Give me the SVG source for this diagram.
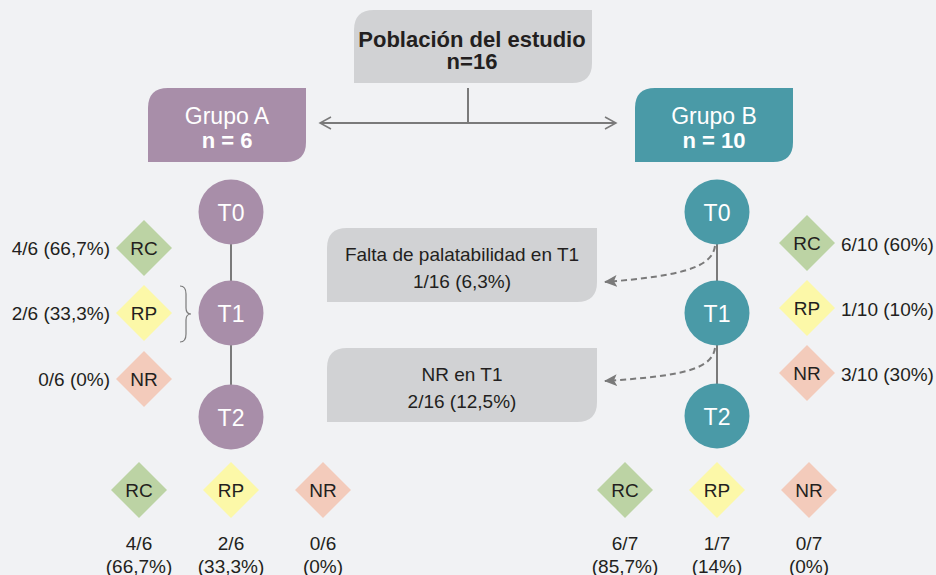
<svg xmlns="http://www.w3.org/2000/svg" width="936" height="575" viewBox="0 0 936 575">
<defs>
<style>
text{font-family:"Liberation Sans",Arial,sans-serif;fill:#231f20;}
.t16{font-size:19px;}
.w{fill:#fff;}
.b{font-weight:bold;}
.m{text-anchor:middle;}
.e{text-anchor:end;}
.gA{fill:#a88ea9;}
.gB{fill:#4a9aa7;}
.rc{fill:#bcd3a4;}
.rp{fill:#fcf8a8;}
.nr{fill:#f3cbbb;}
.gray{fill:#d1d2d4;}
.line{stroke:#7a7a7a;stroke-width:2;fill:none;}
.dash{stroke:#7a7a7a;stroke-width:2;fill:none;stroke-dasharray:6 4;}
</style>
<marker id="open" markerWidth="14" markerHeight="14" refX="12" refY="7" orient="auto-start-reverse" markerUnits="userSpaceOnUse">
<path d="M1,1 L12,7 L1,13" fill="none" stroke="#7a7a7a" stroke-width="1.5"/>
</marker>
<marker id="solid" markerWidth="14" markerHeight="12" refX="12" refY="6" orient="auto" markerUnits="userSpaceOnUse">
<path d="M0,0 L13,6 L0,12 L3,6 Z" fill="#7a7a7a"/>
</marker>
<path id="dm" d="M0,-28 L28,0 L0,28 L-28,0 Z"/>
</defs>
<rect width="936" height="575" fill="#f1f2f4"/>

<g id="connectors">
<line class="line" x1="468" y1="88" x2="468" y2="123"/>
<line class="line" x1="320" y1="123" x2="616" y2="123" stroke-width="1.5" marker-start="url(#open)" marker-end="url(#open)"/>
<line class="line" x1="231" y1="244" x2="231" y2="282"/>
<line class="line" x1="231" y1="345" x2="231" y2="385"/>
<line class="line" x1="717" y1="244" x2="717" y2="282"/>
<line class="line" x1="717" y1="345" x2="717" y2="385"/>
<path class="dash" d="M715,246 C712,268 680,276 605,282" marker-end="url(#solid)"/>
<path class="dash" d="M715,348 C712,370 680,376 605,381" marker-end="url(#solid)"/>
<path d="M180,286 Q186,286 186,294 L186,308 Q186,314 191,314 Q186,314 186,320 L186,334 Q186,342 180,342" fill="none" stroke="#7a7a7a" stroke-width="1.2"/>
</g>

<g id="poblacion">
<path class="gray" d="M374,10 L592,10 L592,63 Q592,83 572,83 L354,83 L354,30 Q354,10 374,10 Z"/>
<text class="m b" x="472" y="47" font-size="22">Población del estudio</text>
<text class="m b" x="472" y="69" font-size="22">n=16</text>
</g>

<g id="grupoA">
<path class="gA" d="M168,88 L306,88 L306,142 Q306,162 286,162 L148,162 L148,108 Q148,88 168,88 Z"/>
<text class="m w" x="227" y="124" font-size="23">Grupo A</text>
<text class="m w b" x="227" y="148" font-size="22">n = 6</text>
</g>

<g id="grupoB">
<path class="gB" d="M655,88 L793,88 L793,142 Q793,162 773,162 L635,162 L635,108 Q635,88 655,88 Z"/>
<text class="m w" x="714" y="124" font-size="23">Grupo B</text>
<text class="m w b" x="714" y="148" font-size="22">n = 10</text>
</g>

<g id="A-T0"><circle class="gA" cx="231" cy="212" r="32.5"/><text class="m w" x="231" y="221" font-size="23">T0</text></g>
<g id="A-T1"><circle class="gA" cx="231" cy="313" r="32.5"/><text class="m w" x="231" y="322" font-size="23">T1</text></g>
<g id="A-T2"><circle class="gA" cx="231" cy="417" r="32.5"/><text class="m w" x="231" y="426" font-size="23">T2</text></g>

<g id="B-T0"><circle class="gB" cx="717" cy="212" r="32.5"/><text class="m w" x="717" y="221" font-size="23">T0</text></g>
<g id="B-T1"><circle class="gB" cx="717" cy="313" r="32.5"/><text class="m w" x="717" y="322" font-size="23">T1</text></g>
<g id="B-T2"><circle class="gB" cx="717" cy="416" r="32.5"/><text class="m w" x="717" y="425" font-size="23">T2</text></g>

<g id="A-RC"><use href="#dm" class="rc" x="144" y="248"/><text class="m t16" x="144" y="255">RC</text><text class="e t16" x="110" y="255">4/6 (66,7%)</text></g>
<g id="A-RP"><use href="#dm" class="rp" x="144" y="313"/><text class="m t16" x="144" y="320">RP</text><text class="e t16" x="110" y="320">2/6 (33,3%)</text></g>
<g id="A-NR"><use href="#dm" class="nr" x="144" y="379"/><text class="m t16" x="144" y="386">NR</text><text class="e t16" x="110" y="386">0/6 (0%)</text></g>

<g id="B-RC"><use href="#dm" class="rc" x="807" y="243"/><text class="m t16" x="807" y="250">RC</text><text class="t16" x="841" y="251">6/10 (60%)</text></g>
<g id="B-RP"><use href="#dm" class="rp" x="807" y="308"/><text class="m t16" x="807" y="315">RP</text><text class="t16" x="841" y="316">1/10 (10%)</text></g>
<g id="B-NR"><use href="#dm" class="nr" x="807" y="373"/><text class="m t16" x="807" y="380">NR</text><text class="t16" x="841" y="381">3/10 (30%)</text></g>

<g id="palatabilidad">
<path class="gray" d="M347,228 L597,228 L597,282 Q597,302 577,302 L327,302 L327,248 Q327,228 347,228 Z"/>
<text class="m t16" x="462" y="261">Falta de palatabilidad en T1</text>
<text class="m t16" x="462" y="288">1/16 (6,3%)</text>
</g>

<g id="nrT1">
<path class="gray" d="M347,348 L597,348 L597,402 Q597,422 577,422 L327,422 L327,368 Q327,348 347,348 Z"/>
<text class="m t16" x="462" y="381">NR en T1</text>
<text class="m t16" x="462" y="408">2/16 (12,5%)</text>
</g>

<g id="A-final-RC"><use href="#dm" class="rc" x="139" y="490"/><text class="m t16" x="139" y="497">RC</text><text class="m t16" x="139" y="550">4/6</text><text class="m t16" x="139" y="573">(66,7%)</text></g>
<g id="A-final-RP"><use href="#dm" class="rp" x="231" y="490"/><text class="m t16" x="231" y="497">RP</text><text class="m t16" x="231" y="550">2/6</text><text class="m t16" x="231" y="573">(33,3%)</text></g>
<g id="A-final-NR"><use href="#dm" class="nr" x="323" y="490"/><text class="m t16" x="323" y="497">NR</text><text class="m t16" x="323" y="550">0/6</text><text class="m t16" x="323" y="573">(0%)</text></g>

<g id="B-final-RC"><use href="#dm" class="rc" x="625" y="490"/><text class="m t16" x="625" y="497">RC</text><text class="m t16" x="625" y="550">6/7</text><text class="m t16" x="625" y="573">(85,7%)</text></g>
<g id="B-final-RP"><use href="#dm" class="rp" x="717" y="490"/><text class="m t16" x="717" y="497">RP</text><text class="m t16" x="717" y="550">1/7</text><text class="m t16" x="717" y="573">(14%)</text></g>
<g id="B-final-NR"><use href="#dm" class="nr" x="809" y="490"/><text class="m t16" x="809" y="497">NR</text><text class="m t16" x="809" y="550">0/7</text><text class="m t16" x="809" y="573">(0%)</text></g>
</svg>
